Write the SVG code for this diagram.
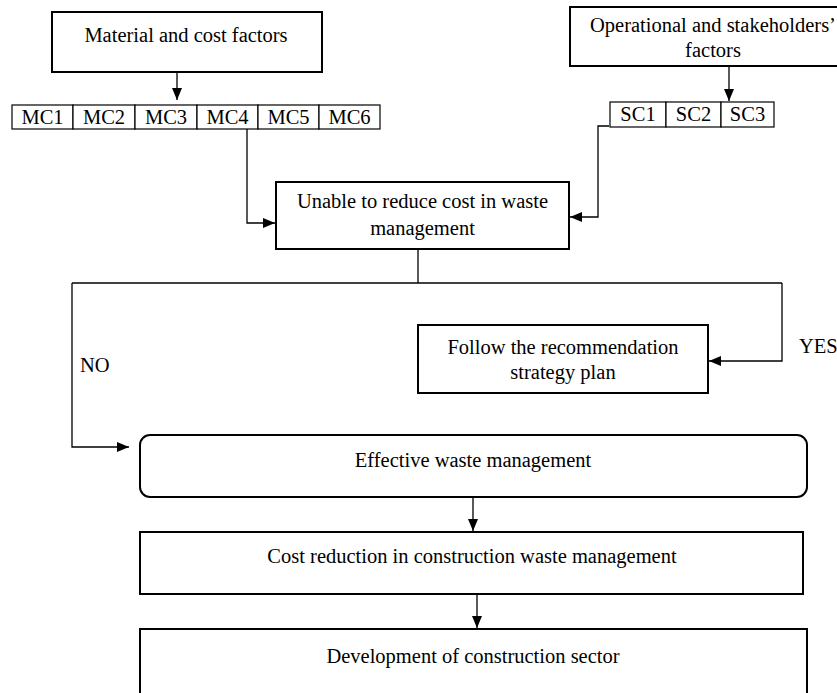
<svg xmlns="http://www.w3.org/2000/svg" width="837" height="693" viewBox="0 0 837 693">
<style>
.box{fill:#fff;stroke:#000;stroke-width:2}
.cell{fill:#fff;stroke:#000;stroke-width:1.2}
.t{font-family:"Liberation Serif","Times New Roman",serif;font-size:20.5px;fill:#000;text-anchor:middle}
.lbl{font-family:"Liberation Serif","Times New Roman",serif;font-size:20.5px;fill:#000}
.c{fill:none;stroke:#000;stroke-width:1.3}
</style>
<defs>
<marker id="ah" markerUnits="userSpaceOnUse" markerWidth="12" markerHeight="10" refX="12" refY="5" orient="auto">
<path d="M0,0 L12,5 L0,10 Z" fill="#000"/>
</marker>
</defs>
<rect width="837" height="693" fill="#fff"/>
<g id="connectors">
<line class="c" x1="177" y1="72" x2="177" y2="100" marker-end="url(#ah)"/>
<line class="c" x1="729" y1="66" x2="729" y2="101" marker-end="url(#ah)"/>
<polyline class="c" points="224,127 247,127 247,223 275,223" marker-end="url(#ah)"/>
<polyline class="c" points="609,126 598,126 598,217 570,217" marker-end="url(#ah)"/>
<polyline class="c" points="418,249 418,283"/>
<polyline class="c" points="72,283 782,283"/>
<polyline class="c" points="782,283 782,361 709,361" marker-end="url(#ah)"/>
<polyline class="c" points="72,283 72,447 129,447" marker-end="url(#ah)"/>
<line class="c" x1="473" y1="498" x2="473" y2="531" marker-end="url(#ah)"/>
<line class="c" x1="477" y1="594" x2="477" y2="628" marker-end="url(#ah)"/>
</g>
<g id="material">
<rect class="box" x="52" y="12" width="270" height="60"/>
<text class="t" x="186" y="42">Material and cost factors</text>
</g>
<g id="mc-row">
<rect class="cell" x="12" y="105" width="61" height="24"/><text class="t" x="42.5" y="124">MC1</text>
<rect class="cell" x="73" y="105" width="62" height="24"/><text class="t" x="104" y="124">MC2</text>
<rect class="cell" x="135" y="105" width="62" height="24"/><text class="t" x="166" y="124">MC3</text>
<rect class="cell" x="197" y="105" width="61" height="24"/><text class="t" x="227.5" y="124">MC4</text>
<rect class="cell" x="258" y="105" width="61" height="24"/><text class="t" x="288.5" y="124">MC5</text>
<rect class="cell" x="319" y="105" width="61" height="24"/><text class="t" x="349.5" y="124">MC6</text>
</g>
<g id="operational">
<rect class="box" x="570" y="7" width="290" height="59"/>
<text class="t" x="713" y="32">Operational and stakeholders’</text>
<text class="t" x="713" y="57">factors</text>
</g>
<g id="sc-row">
<rect class="cell" x="610" y="102" width="56" height="25"/><text class="t" x="638" y="121">SC1</text>
<rect class="cell" x="666" y="102" width="55" height="25"/><text class="t" x="693.5" y="121">SC2</text>
<rect class="cell" x="721" y="102" width="53" height="25"/><text class="t" x="747.5" y="121">SC3</text>
</g>
<g id="unable">
<rect class="box" x="276" y="182" width="293" height="67"/>
<text class="t" x="422.5" y="208">Unable to reduce cost in waste</text>
<text class="t" x="422.5" y="235">management</text>
</g>
<g id="follow">
<rect class="box" x="418" y="325" width="290" height="68"/>
<text class="t" x="563" y="354">Follow the recommendation</text>
<text class="t" x="563" y="379">strategy plan</text>
</g>
<g id="labels">
<text class="lbl" x="799" y="353">YES</text>
<text class="lbl" x="80" y="372">NO</text>
</g>
<g id="effective">
<rect class="box" x="140" y="435" width="667" height="62" rx="10" ry="10"/>
<text class="t" x="473" y="467">Effective waste management</text>
</g>
<g id="cost">
<rect class="box" x="140" y="532" width="663" height="62"/>
<text class="t" x="472" y="563">Cost reduction in construction waste management</text>
</g>
<g id="development">
<rect class="box" x="140" y="629" width="667" height="80"/>
<text class="t" x="473" y="663">Development of construction sector</text>
</g>
</svg>
